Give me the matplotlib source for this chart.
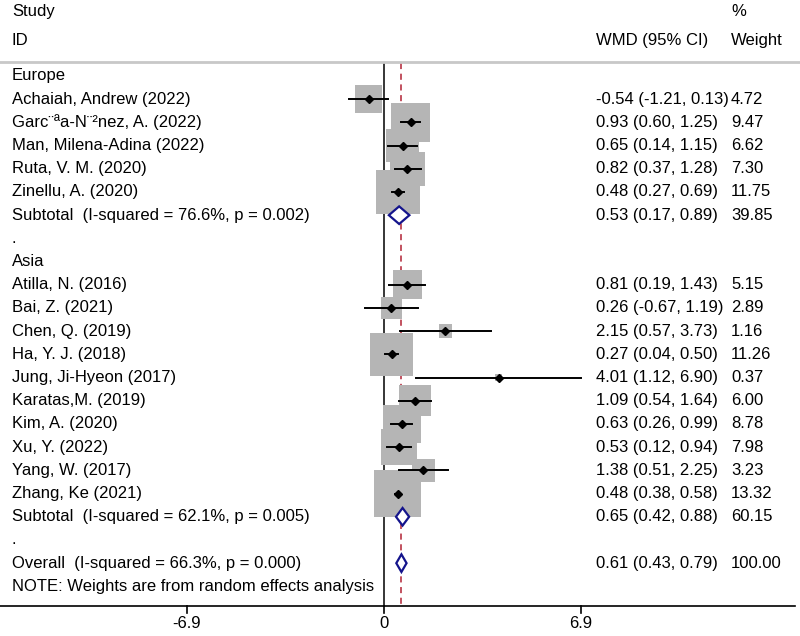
import matplotlib
matplotlib.use("Agg")
import matplotlib.pyplot as plt
from matplotlib.patches import Polygon

plt.rcParams['font.family'] = ['Liberation Sans', 'DejaVu Sans']

# данные: исследования (имя, WMD, нижняя, верхняя граница, вес %)
eu_names = ["Achaiah, Andrew (2022)", "Garc\u00a8\u00aaa-N\u00a8\u00b2nez, A. (2022)",
            "Man, Milena-Adina (2022)", "Ruta, V. M. (2020)", "Zinellu, A. (2020)"]
eu_est = [-0.54, 0.93, 0.65, 0.82, 0.48]
eu_lo = [-1.21, 0.60, 0.14, 0.37, 0.27]
eu_hi = [0.13, 1.25, 1.15, 1.28, 0.69]
eu_w = [4.72, 9.47, 6.62, 7.30, 11.75]

as_names = ["Atilla, N. (2016)", "Bai, Z. (2021)", "Chen, Q. (2019)", "Ha, Y. J. (2018)",
            "Jung, Ji-Hyeon (2017)", "Karatas,M. (2019)", "Kim, A. (2020)", "Xu, Y. (2022)",
            "Yang, W. (2017)", "Zhang, Ke (2021)"]
as_est = [0.81, 0.26, 2.15, 0.27, 4.01, 1.09, 0.63, 0.53, 1.38, 0.48]
as_lo = [0.19, -0.67, 0.57, 0.04, 1.12, 0.54, 0.26, 0.12, 0.51, 0.38]
as_hi = [1.43, 1.19, 3.73, 0.50, 6.90, 1.64, 0.99, 0.94, 2.25, 0.58]
as_w = [5.15, 2.89, 1.16, 11.26, 0.37, 6.00, 8.78, 7.98, 3.23, 13.32]

# итоги (подгруппы и общий)
pooled_names = ["Subtotal  (I-squared = 76.6%, p = 0.002)",
                "Subtotal  (I-squared = 62.1%, p = 0.005)",
                "Overall  (I-squared = 66.3%, p = 0.000)"]
pooled_est = [0.53, 0.65, 0.61]
pooled_lo = [0.17, 0.42, 0.43]
pooled_hi = [0.89, 0.88, 0.79]
pooled_w = [39.85, 60.15, 100.00]

xticks = [-6.9, 0, 6.9]
overall = 0.61

# строки: Europe=0, исследования 1-5, subtotal 6, "." 7, Asia 8, 9-18, subtotal 19, "." 20, overall 21, note 22
eu_rows = list(range(1, 6))
as_rows = list(range(9, 19))
pooled_rows = [6, 19, 21]

fig = plt.figure(figsize=(8, 6.36), dpi=100)
ax = fig.add_axes([0, 0, 1, 1])
ax.set_xlim(-13.45, 14.57)
ax.set_ylim(24.14, -3.276)
ax.axis('off')

fs = 12
xtxt = -13.03   # левый столбец
xwmd = 7.43     # столбец WMD
xwt = 12.15     # столбец весов

ax.text(xtxt, -2.76, "Study", fontsize=fs, va='center')
ax.text(xtxt, -1.55, "ID", fontsize=fs, va='center')
ax.text(xwmd, -1.55, "WMD (95% CI)", fontsize=fs, va='center')
ax.text(xwt, -2.76, "%", fontsize=fs, va='center')
ax.text(xwt, -1.55, "Weight", fontsize=fs, va='center')
ax.plot([-13.45, 14.57], [-0.6, -0.6], color='#c8c8c8', lw=2)

# линии нуля и общего эффекта
ax.plot([0, 0], [-0.55, 22.83], color='black', lw=1.1, zorder=1)
ax.plot([overall, overall], [-0.55, 22.83], color='#b22234', lw=1.1,
        dashes=(4, 3), zorder=1)

names = eu_names + as_names
est = eu_est + as_est
lo = eu_lo + as_lo
hi = eu_hi + as_hi
w = eu_w + as_w
rows = eu_rows + as_rows

ax.scatter(est, rows, s=[84.9 * v for v in w], marker='s', color='#b5b5b5',
           linewidths=0, zorder=2)
for r, e, l, h in zip(rows, est, lo, hi):
    ax.plot([l, h], [r, r], color='black', lw=1.4, zorder=3)
ax.plot(est, rows, 'D', color='black', ms=4, zorder=4)

for r, n, e, l, h, v in zip(rows, names, est, lo, hi, w):
    ax.text(xtxt, r, n, fontsize=fs, va='center')
    ax.text(xwmd, r, "%.2f (%.2f, %.2f)" % (e, l, h), fontsize=fs, va='center')
    ax.text(xwt, r, "%.2f" % v, fontsize=fs, va='center')

for r, n, e, l, h, v in zip(pooled_rows, pooled_names, pooled_est, pooled_lo, pooled_hi, pooled_w):
    d = Polygon([(l, r), (e, r - 0.38), (h, r), (e, r + 0.38)], closed=True,
                facecolor='white', edgecolor='#14148c', lw=1.6, zorder=5)
    ax.add_patch(d)
    ax.text(xtxt, r, n, fontsize=fs, va='center')
    ax.text(xwmd, r, "%.2f (%.2f, %.2f)" % (e, l, h), fontsize=fs, va='center')
    ax.text(xwt, r, "%.2f" % v, fontsize=fs, va='center')

ax.text(xtxt, 0, "Europe", fontsize=fs, va='center')
ax.text(xtxt, 7, ".", fontsize=fs, va='center')
ax.text(xtxt, 8, "Asia", fontsize=fs, va='center')
ax.text(xtxt, 20, ".", fontsize=fs, va='center')
ax.text(xtxt, 22, "NOTE: Weights are from random effects analysis", fontsize=fs, va='center')

# нижняя ось
ax.plot([-13.45, 14.4], [22.83, 22.83], color='black', lw=1.2)
for t in xticks:
    ax.plot([t, t], [22.83, 23.15], color='black', lw=1.2)
    ax.text(t, 23.62, "%g" % t, fontsize=fs, ha='center', va='center')

fig.savefig("out.png", dpi=100)
